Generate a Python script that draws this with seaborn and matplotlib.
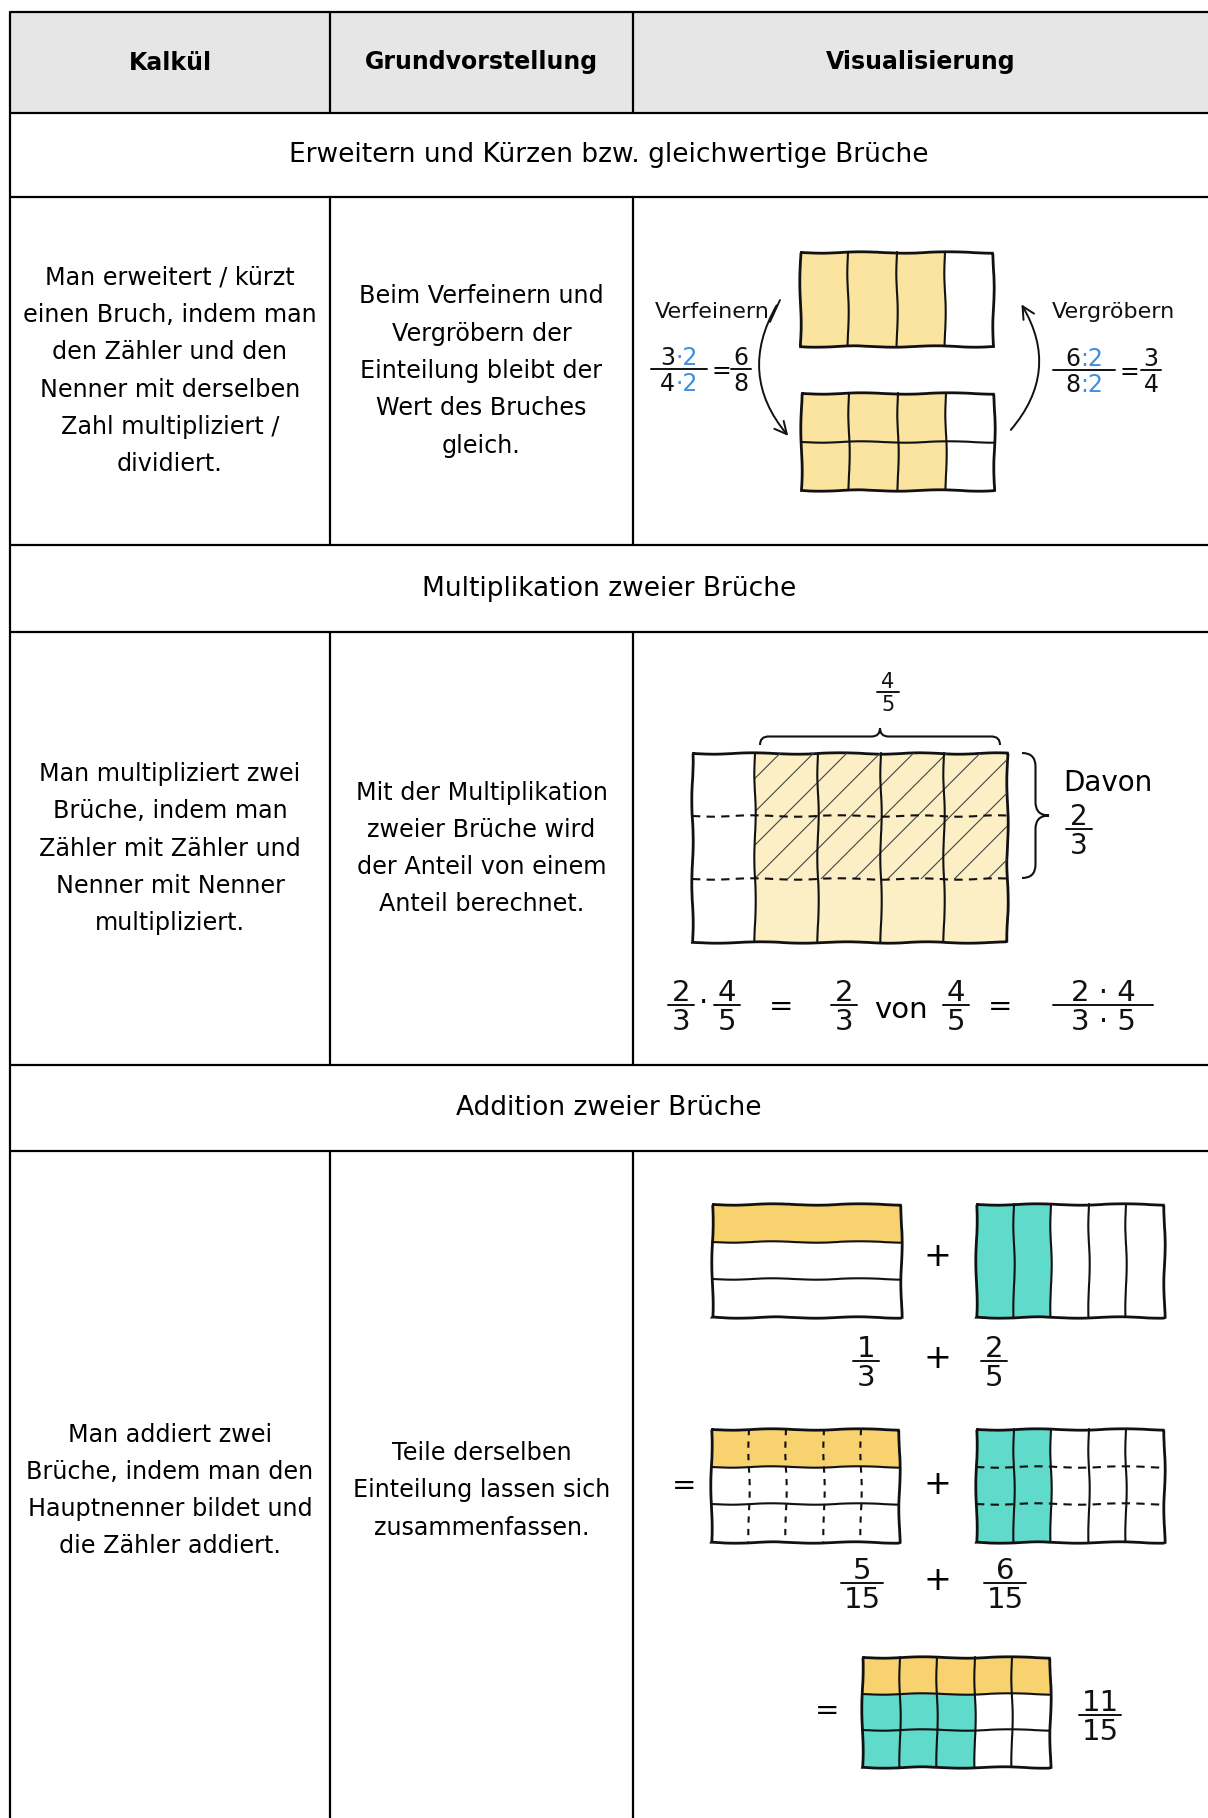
import matplotlib
matplotlib.use("Agg")
import numpy as np
import matplotlib.pyplot as plt
import seaborn as sns
from matplotlib.patches import Rectangle, FancyArrowPatch, PathPatch
from matplotlib.path import Path

# --- table content ---
col_headers = ["Kalkül", "Grundvorstellung", "Visualisierung"]
section_titles = ["Erweitern und Kürzen bzw. gleichwertige Brüche",
                  "Multiplikation zweier Brüche",
                  "Addition zweier Brüche"]
kalkuel_texts = [
    "Man erweitert / kürzt\neinen Bruch, indem man\nden Zähler und den\nNenner mit derselben\nZahl multipliziert /\ndividiert.",
    "Man multipliziert zwei\nBrüche, indem man\nZähler mit Zähler und\nNenner mit Nenner\nmultipliziert.",
    "Man addiert zwei\nBrüche, indem man den\nHauptnenner bildet und\ndie Zähler addiert.",
]
vorstellung_texts = [
    "Beim Verfeinern und\nVergröbern der\nEinteilung bleibt der\nWert des Bruches\ngleich.",
    "Mit der Multiplikation\nzweier Brüche wird\nder Anteil von einem\nAnteil berechnet.",
    "Teile derselben\nEinteilung lassen sich\nzusammenfassen.",
]

# --- fractions shown in the sketches ---
erw_num, erw_den, erw_factor = 3, 4, 2
mul_a = (2, 3)
mul_b = (4, 5)
add_a = (1, 3)
add_b = (2, 5)

ink = "#111111"
blue = "#3d8fe0"
yellow1 = "#fbe3a0"
yellow2 = "#fcefc6"
yellow3 = "#f7d26e"
teal = "#5fdacb"

sns.set_theme(style="white")
plt.rcParams["font.family"] = ["DejaVu Sans"]
plt.rcParams["text.color"] = "black"
plt.rcParams["hatch.color"] = "#444444"
plt.rcParams["hatch.linewidth"] = 0.8

fig = plt.figure(figsize=(12.08, 18.18), dpi=100)
ax = fig.add_axes([0, 0, 1, 1])
ax.set_xlim(0, 1208)
ax.set_ylim(1818, 0)
ax.axis("off")
renderer = fig.canvas.get_renderer()

# table frame
col_x = [10, 330, 633, 1208]
row_y = [12, 113, 197, 545, 632, 1065, 1151, 1835]
ax.add_patch(Rectangle((col_x[0], row_y[0]), col_x[-1] - col_x[0], row_y[1] - row_y[0],
                       fc="#e6e6e6", ec="none"))
for y in row_y[:-1]:
    ax.plot([col_x[0], col_x[-1]], [y, y], color="black", lw=1.6, solid_capstyle="butt")
ax.plot([col_x[0]] * 2, [row_y[0], 1818], color="black", lw=1.6)
for i in [0, 2, 4, 6]:
    for x in col_x[1:3]:
        ax.plot([x, x], [row_y[i], row_y[i + 1]], color="black", lw=1.6)

fs_body = 17.2
for i, h in enumerate(col_headers):
    ax.text((col_x[i] + col_x[i + 1]) / 2, (row_y[0] + row_y[1]) / 2, h, ha="center",
            va="center", fontsize=17, fontweight="bold")
for k in range(3):
    ytitle = (row_y[1 + 2 * k] + row_y[2 + 2 * k]) / 2
    ax.text((col_x[0] + col_x[-1]) / 2, ytitle, section_titles[k], ha="center",
            va="center", fontsize=19)
    y0, y1 = row_y[2 + 2 * k], min(row_y[3 + 2 * k], 1830)
    yc = (y0 + y1) / 2
    ax.text((col_x[0] + col_x[1]) / 2, yc, kalkuel_texts[k], ha="center", va="center",
            fontsize=fs_body, linespacing=1.7)
    ax.text((col_x[1] + col_x[2]) / 2, yc, vorstellung_texts[k], ha="center", va="center",
            fontsize=fs_body, linespacing=1.7)


# --- helpers for the sketches ---
def sketch(artist):
    artist.set_sketch_params(0.7, 90, 2)
    return artist


def grid(x0, y0, w, h, ncols, nrows, mask=None, color=None, vdash=False, hdash=False):
    cw, rh = w / ncols, h / nrows
    if mask is not None:
        for r in range(nrows):
            for c in range(ncols):
                if mask[r, c]:
                    ax.add_patch(Rectangle((x0 + c * cw, y0 + r * rh), cw, rh,
                                           fc=color, ec="none"))
    for c in range(1, ncols):
        ln, = ax.plot([x0 + c * cw] * 2, [y0, y0 + h], color=ink, lw=1.5,
                      ls=(0, (3, 3)) if vdash else "-")
        sketch(ln)
    for r in range(1, nrows):
        ln, = ax.plot([x0, x0 + w], [y0 + r * rh] * 2, color=ink, lw=1.5,
                      ls=(0, (4, 3)) if hdash else "-")
        sketch(ln)
    sketch(ax.add_patch(Rectangle((x0, y0), w, h, fill=False, ec=ink, lw=2.0)))


def parts(xc, y, items, fs, va="baseline"):
    texts = [ax.text(0, y, s, color=c, fontsize=fs, ha="left", va=va) for s, c in items]
    widths = [t.get_window_extent(renderer).width for t in texts]
    x = xc - sum(widths) / 2
    for t, w in zip(texts, widths):
        t.set_x(x)
        x += w


def frac(x, ybar, num, den, fs, half, color=ink):
    if isinstance(num, str):
        num = [(num, color)]
    if isinstance(den, str):
        den = [(den, color)]
    parts(x, ybar - 4, num, fs, va="baseline")
    parts(x, ybar + 3, den, fs, va="top")
    ax.plot([x - half, x + half], [ybar, ybar], color=ink, lw=1.4)


def brace_h(x1, x2, y, h):
    xm = (x1 + x2) / 2
    m = y - h / 2
    verts = [(x1, y), (x1, m), (x1 + h / 2, m), (xm - h / 2, m), (xm, m), (xm, y - h),
             (xm, m), (xm + h / 2, m), (x2 - h / 2, m), (x2, m), (x2, y)]
    codes = [Path.MOVETO, Path.CURVE3, Path.CURVE3, Path.LINETO, Path.CURVE3, Path.CURVE3,
             Path.CURVE3, Path.CURVE3, Path.LINETO, Path.CURVE3, Path.CURVE3]
    ax.add_patch(PathPatch(Path(verts, codes), fill=False, ec=ink, lw=1.5))


def brace_v(x, y1, y2, h):
    ym = (y1 + y2) / 2
    m = x + h / 2
    verts = [(x, y1), (m, y1), (m, y1 + h / 2), (m, ym - h / 2), (m, ym), (x + h, ym),
             (m, ym), (m, ym + h / 2), (m, y2 - h / 2), (m, y2), (x, y2)]
    codes = [Path.MOVETO, Path.CURVE3, Path.CURVE3, Path.LINETO, Path.CURVE3, Path.CURVE3,
             Path.CURVE3, Path.CURVE3, Path.LINETO, Path.CURVE3, Path.CURVE3]
    ax.add_patch(PathPatch(Path(verts, codes), fill=False, ec=ink, lw=1.5))


def arrow(p1, p2, rad):
    ax.add_patch(FancyArrowPatch(p1, p2, connectionstyle=f"arc3,rad={rad}",
                                 arrowstyle="->", mutation_scale=22, lw=1.4, color=ink))


# --- row 1: Erweitern / Kuerzen ---
m1 = np.zeros((1, erw_den), bool)
m1[:, :erw_num] = True
grid(800, 252, 193, 94, erw_den, 1, m1, yellow1)
m2 = np.zeros((erw_factor, erw_den), bool)
m2[:, :erw_num] = True
grid(801, 393, 193, 97, erw_den, erw_factor, m2, yellow1)

fs_small = 17
ax.text(655, 312, "Verfeinern", fontsize=16, ha="left", va="center", color=ink)
ax.plot([770, 780], [322, 300], color=ink, lw=1.3)
arrow((778, 303), (790, 438), 0.36)
frac(679, 369, [(f"{erw_num}", ink), (f"·{erw_factor}", blue)],
     [(f"{erw_den}", ink), (f"·{erw_factor}", blue)], fs_small, 28)
ax.text(721, 371, "=", fontsize=fs_small, ha="center", va="center")
frac(741, 369, f"{erw_num * erw_factor}", f"{erw_den * erw_factor}", fs_small, 10)

ax.text(1052, 312, "Vergröbern", fontsize=16, ha="left", va="center", color=ink)
arrow((1009, 432), (1020, 302), 0.37)
frac(1084, 370, [(f"{erw_num * erw_factor}", ink), (f":{erw_factor}", blue)],
     [(f"{erw_den * erw_factor}", ink), (f":{erw_factor}", blue)], fs_small, 31)
ax.text(1129, 372, "=", fontsize=fs_small, ha="center", va="center")
frac(1151, 370, f"{erw_num}", f"{erw_den}", fs_small, 10)

# --- row 2: Multiplikation ---
mm = np.zeros((mul_a[1], mul_b[1]), bool)
mm[:, mul_b[1] - mul_b[0]:] = True
grid(692, 753, 315, 189, mul_b[1], mul_a[1], mm, yellow2, hdash=True)
cw = 315 / mul_b[1]
rh = 189 / mul_a[1]
ax.add_patch(Rectangle((692 + (mul_b[1] - mul_b[0]) * cw, 753), mul_b[0] * cw, mul_a[0] * rh,
                       fill=False, hatch="/", lw=0, ec="#444444"))
brace_h(760, 1000, 745, 17)
frac(888, 692, f"{mul_b[0]}", f"{mul_b[1]}", 15, 11)
brace_v(1022, 753, 878, 27)
ax.text(1108, 783, "Davon", fontsize=20, ha="center", va="center")
frac(1079, 829, f"{mul_a[0]}", f"{mul_a[1]}", 20, 13)

fs_eq = 21
frac(681, 1005, f"{mul_a[0]}", f"{mul_a[1]}", fs_eq, 13)
ax.text(704, 1003, "·", fontsize=fs_eq, ha="center", va="center")
frac(727, 1005, f"{mul_b[0]}", f"{mul_b[1]}", fs_eq, 13)
ax.text(781, 1007, "=", fontsize=fs_eq, ha="center", va="center")
frac(844, 1005, f"{mul_a[0]}", f"{mul_a[1]}", fs_eq, 13)
ax.text(901, 1010, "von", fontsize=fs_eq, ha="center", va="center")
frac(956, 1005, f"{mul_b[0]}", f"{mul_b[1]}", fs_eq, 13)
ax.text(1000, 1007, "=", fontsize=fs_eq, ha="center", va="center")
frac(1103, 1005, f"{mul_a[0]} · {mul_b[0]}", f"{mul_a[1]} · {mul_b[1]}", fs_eq, 50)

# --- row 3: Addition ---
den = add_a[1] * add_b[1]
ma = np.zeros((add_a[1], 1), bool)
ma[:add_a[0], :] = True
grid(712, 1204, 189, 113, 1, add_a[1], ma, yellow3)
ax.text(937, 1256, "+", fontsize=24, ha="center", va="center")
mb = np.zeros((1, add_b[1]), bool)
mb[:, :add_b[0]] = True
grid(976, 1204, 188, 113, add_b[1], 1, mb, teal)
frac(866, 1361, f"{add_a[0]}", f"{add_a[1]}", fs_eq, 13)
ax.text(937, 1358, "+", fontsize=24, ha="center", va="center")
frac(994, 1361, f"{add_b[0]}", f"{add_b[1]}", fs_eq, 13)

ax.text(684, 1486, "=", fontsize=fs_eq, ha="center", va="center")
mc = np.zeros((add_a[1], add_b[1]), bool)
mc[:add_a[0], :] = True
grid(711, 1429, 188, 113, add_b[1], add_a[1], mc, yellow3, vdash=True)
ax.text(937, 1484, "+", fontsize=24, ha="center", va="center")
md = np.zeros((add_a[1], add_b[1]), bool)
md[:, :add_b[0]] = True
grid(976, 1429, 188, 113, add_b[1], add_a[1], md, teal, hdash=True)
frac(862, 1583, f"{add_a[0] * add_b[1]}", f"{den}", fs_eq, 21)
ax.text(937, 1581, "+", fontsize=24, ha="center", va="center")
frac(1005, 1583, f"{add_b[0] * add_a[1]}", f"{den}", fs_eq, 21)

ax.text(827, 1711, "=", fontsize=fs_eq, ha="center", va="center")
me = np.zeros((add_a[1], add_b[1]), int)
me[:add_a[0], :] = 1
n_teal = add_b[0] * add_a[1]
for i in range(n_teal):
    me[add_a[0] + i % (add_a[1] - add_a[0]), i // (add_a[1] - add_a[0])] = 2
cw3, rh3 = 188 / add_b[1], 110 / add_a[1]
for r in range(add_a[1]):
    for c in range(add_b[1]):
        if me[r, c]:
            ax.add_patch(Rectangle((862 + c * cw3, 1657 + r * rh3), cw3, rh3,
                                   fc=yellow3 if me[r, c] == 1 else teal, ec="none"))
grid(862, 1657, 188, 110, add_b[1], add_a[1])
frac(1100, 1715, f"{add_a[0] * add_b[1] + add_b[0] * add_a[1]}", f"{den}", fs_eq, 21)

fig.savefig("out.png", dpi=100)
